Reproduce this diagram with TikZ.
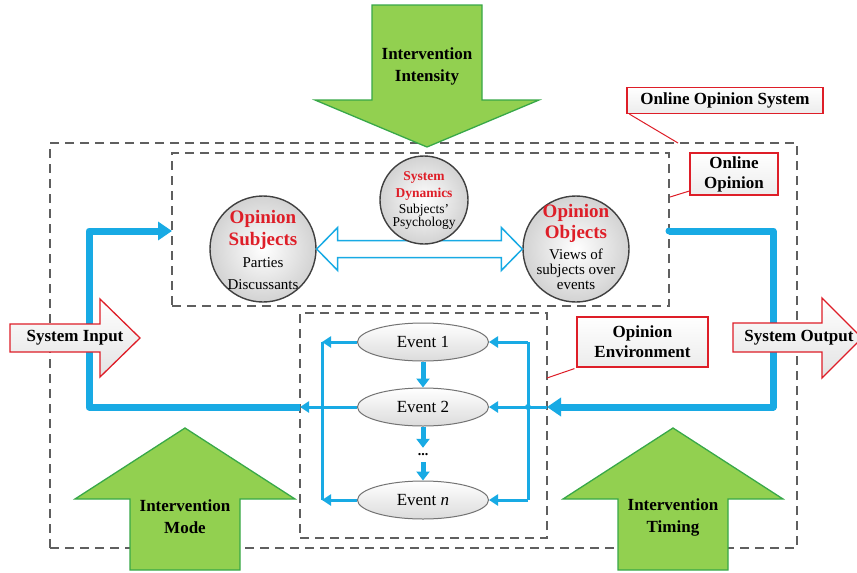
\documentclass[tikz,border=0pt]{standalone}
\usepackage{fontspec}
\setmainfont{Liberation Serif}
\usetikzlibrary{arrows.meta,shapes.geometric,calc}
\definecolor{flow}{RGB}{24,170,228}
\definecolor{lgreen}{RGB}{146,208,80}
\definecolor{dgreen}{RGB}{56,168,72}
\definecolor{cred}{RGB}{222,30,40}
\definecolor{frame}{RGB}{95,95,95}
\begin{document}
\begin{tikzpicture}[x=1pt,y=-1pt,
  dashbox/.style={draw=frame,line width=1.4pt,dash pattern=on 9pt off 6pt,inner sep=0pt},
  bubble/.style={circle,draw=black!75,line width=1.4pt,inner color=white,outer color=gray!35,inner sep=0pt,align=center},
  evt/.style={ellipse,draw=black!55,line width=1pt,top color=white,bottom color=gray!28,minimum width=131pt,minimum height=38pt,inner sep=0pt,font=\fontsize{17}{19}\selectfont},
  callout/.style={draw=cred,line width=1.2pt,top color=white,bottom color=gray!15,font=\bfseries\fontsize{17}{20}\selectfont,align=center,inner sep=0pt},
  calloutline/.style={draw=cred,line width=1pt},
  garrow/.style={fill=lgreen,draw=dgreen,line width=1.3pt,line join=miter},
  glabel/.style={font=\bfseries\fontsize{17}{22}\selectfont,align=center},
  redarrow/.style={draw=cred,line width=1.3pt,top color=white,bottom color=gray!22,line join=miter},
  flowthick/.style={draw=flow,line width=7pt,line join=round},
  flowthin/.style={draw=flow,line width=3pt},
  flowmid/.style={draw=flow,line width=5pt},
  bigtip/.style={-{Triangle[length=14pt,width=18pt]}},
  smalltip/.style={-{Triangle[length=9pt,width=11pt]}},
  midtip/.style={-{Triangle[length=9pt,width=13pt]}},
  dblarrow/.style={draw=flow,line width=1.5pt,fill=white,line join=miter}
]
\clip (0,0) rectangle (857,573);
\fill[white] (0,0) rectangle (857,573);

% dashed frames
\node[dashbox,minimum width=747pt,minimum height=405pt] (sys) at (423.5,345.5) {};
\node[dashbox,minimum width=497pt,minimum height=153pt] (oo) at (420.5,229.5) {};
\node[dashbox,minimum width=247pt,minimum height=225pt] (env) at (423.5,425.5) {};

% connection points
\coordinate (ooL) at (172,231);
\coordinate (ooR) at (669,231);
\coordinate (envL) at (300,407);
\coordinate (envR) at (547,407);
\coordinate (lc1) at (89,407);
\coordinate (lc2) at (89,231);
\coordinate (rc1) at (773,231);
\coordinate (rc2) at (773,407);

% thick feedback loops
\draw[flowthick,bigtip] (envL) -- (lc1) -- (lc2) -- (ooL);
\draw[flowthick,bigtip] (ooR) -- (rc1) -- (rc2) -- (envR);
\fill[flow] (ooR) circle (3.5pt);

% circles
\node[bubble,minimum size=106pt] (subj) at (263,249) {};
\node[bubble,minimum size=106pt] (obj) at (576,249) {};

% double arrow between subjects and objects
\draw[dblarrow] (subj.east) -- ++(21,-21.5) -- ++(0,13) -- ($(obj.west)+(-21,-8.5)$) -- ++(0,-13)
  -- (obj.west) -- ++(-21,21.5) -- ++(0,-13) -- ($(subj.east)+(21,8.5)$) -- ++(0,13) -- cycle;

\node[bubble,minimum size=88pt] (dyn) at (424,200) {};

\node[align=center,font=\fontsize{15}{22}\selectfont] (subjtxt) at (263,250)
  {\textcolor{cred}{\bfseries\fontsize{19}{21}\selectfont Opinion}\\
   \textcolor{cred}{\bfseries\fontsize{19}{21}\selectfont Subjects}\\
   Parties\\ Discussants};
\node[align=center,font=\fontsize{15}{17}\selectfont] (objtxt) at (576,247)
  {\textcolor{cred}{\bfseries\fontsize{19}{21}\selectfont Opinion}\\[3pt]
   \textcolor{cred}{\bfseries\fontsize{19}{21}\selectfont Objects}\\[4pt]
   Views of\\[-2pt] subjects over\\[-2pt] events};
\node[align=center,font=\fontsize{13.5}{15}\selectfont] (dyntxt) at (424,200)
  {\textcolor{cred}{\bfseries System}\\[2pt]
   \textcolor{cred}{\bfseries Dynamics}\\[1pt]
   Subjects'\\[-2pt] Psychology};

% events
\node[evt] (ev1) at (423,342) {Event 1};
\node[evt] (ev2) at (423,407) {Event 2};
\node[font=\bfseries\fontsize{14}{14}\selectfont,inner sep=0pt,minimum height=14pt] (dots) at (423,455) {...};
\node[evt] (evn) at (423,500) {Event \textit{n}};

\coordinate (lb1) at (322,342);
\coordinate (lbn) at (322,500);
\coordinate (rb1) at (528,342);
\coordinate (rb2) at (528,407);
\coordinate (rbn) at (528,500);

\draw[flowthin] (lb1) -- (lbn);
\draw[flowthin] (rb1) -- (rbn);
\draw[flowthin,smalltip] (ev1.west) -- (lb1);
\draw[flowthin,smalltip] (evn.west) -- (lbn);
\draw[flowthin,smalltip] (ev2.west) -- (envL);
\draw[flowthin,smalltip] (rb1) -- (ev1.east);
\draw[flowthin,smalltip] (rb2) -- (ev2.east);
\draw[flowthin,smalltip] (rbn) -- (evn.east);
\draw[flowthin] (envR) -- (rb2);
\fill[flow] (rb2) circle (3pt);
\draw[flowmid,midtip] (ev1.south) -- (ev2.north);
\draw[flowmid,midtip] (ev2.south) -- (dots.north);
\draw[flowmid,midtip] (dots.south) -- (evn.north);

% green intervention arrows
\draw[garrow] (372,5) -- (482,5) -- (482,100) -- (539,100) -- (427,147) -- (315,100) -- (372,100) -- cycle;
\node[glabel] (intensity) at (427,66) {Intervention\\Intensity};
\draw[garrow] (185,428) -- (295,499) -- (240,499) -- (240,570) -- (130,570) -- (130,499) -- (75,499) -- cycle;
\node[glabel] (mode) at (185,517) {Intervention\\Mode};
\draw[garrow] (673,428) -- (783,499) -- (728,499) -- (728,570) -- (618,570) -- (618,499) -- (563,499) -- cycle;
\node[glabel] (timing) at (673,517) {Intervention\\Timing};

% system input / output
\draw[redarrow] (10,324) -- (100,324) -- (100,299) -- (140,338) -- (100,377) -- (100,352) -- (10,352) -- cycle;
\node[font=\bfseries\fontsize{17}{20}\selectfont] (sin) at (75,338) {System Input};
\draw[redarrow] (733,323) -- (822,323) -- (822,298) -- (862,338) -- (822,378) -- (822,352) -- (733,352) -- cycle;
\node[font=\bfseries\fontsize{17}{20}\selectfont] (sout) at (799,338) {System Output};

% callouts
\node[callout,minimum width=196pt,minimum height=26pt] (csys) at (725,100.5) {Online Opinion System};
\coordinate (psys) at (678,143);
\draw[calloutline] ($(csys.south west)+(3,0)$) -- (psys);
\node[callout,minimum width=88pt,minimum height=42pt] (coo) at (734,174) {Online\\Opinion};
\coordinate (poo) at (670,197);
\draw[calloutline] ($(coo.west)+(0,17)$) -- (poo);
\node[callout,minimum width=131pt,minimum height=50pt] (cenv) at (642.5,342) {Opinion\\Environment};
\coordinate (penv) at (547,378);
\draw[calloutline] ($(cenv.south west)+(-2,1)$) -- (penv);
\end{tikzpicture}
\end{document}
